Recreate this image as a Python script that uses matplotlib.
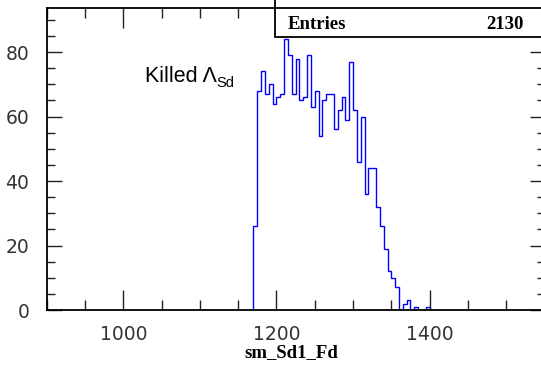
import numpy as np
import matplotlib
matplotlib.use("Agg")
import matplotlib.pyplot as plt
from matplotlib.patches import Rectangle
from matplotlib.ticker import MultipleLocator

# histogram contents, 5-unit bins starting at 1170
bin_start = 1170
bin_width = 5
counts = [26, 68, 74, 67, 70, 64, 66, 67, 84, 79,
          67, 78, 65, 66, 79, 63, 68, 54, 65, 67,
          67, 56, 62, 66, 59, 77, 62, 46, 60, 36,
          44, 44, 32, 26, 19, 12, 10, 7, 0, 2,
          3, 0, 1, 0, 0, 1]
entries = 2130
x_title = "sm_Sd1_Fd"

W, H = 541, 365
fig = plt.figure(figsize=(W / 100, H / 100), dpi=100)

# axes in pixel units: left 46.7, bottom 55, 497.8 wide, 301.7 tall
ax = fig.add_axes([46.7 / W, 55 / H, 497.8 / W, 301.7 / H])

edges = bin_start + bin_width * np.arange(len(counts) + 1)
ax.stairs(counts, edges, color="#0000ff", lw=1.0)

ax.set_xlim(900, 1550)
ax.set_ylim(0, 93.6)

ax.xaxis.set_major_locator(MultipleLocator(200))
ax.xaxis.set_minor_locator(MultipleLocator(50))
ax.yaxis.set_major_locator(MultipleLocator(20))
ax.yaxis.set_minor_locator(MultipleLocator(5))

ax.tick_params(which="both", direction="in", top=True, right=True, colors="#222222")
ax.tick_params(axis="x", which="major", length=14.4, width=1.0, pad=10.5)
ax.tick_params(axis="x", which="minor", length=7.2, width=1.0)
ax.tick_params(axis="y", which="major", length=10.8, width=1.0, pad=12.5)
ax.tick_params(axis="y", which="minor", length=5.8, width=1.0)
for lab in ax.get_xticklabels() + ax.get_yticklabels():
    lab.set_fontsize(13.5)
    lab.set_fontfamily("DejaVu Sans")
    lab.set_color("#333333")

for s in ax.spines.values():
    s.set_linewidth(1.3)
    s.set_color("black")

# stats box in the top right corner
box = Rectangle((0.4586, 0.9065), 0.6, 0.2, transform=ax.transAxes,
                facecolor="white", edgecolor="black", lw=1.3,
                clip_on=False, zorder=2)
ax.add_patch(box)
fig.text(288 / W, (H - 29) / H, "Entries", family="Liberation Serif",
         weight="bold", fontsize=13.5, ha="left", va="baseline")
fig.text(524 / W, (H - 29) / H, str(entries), family="Liberation Serif",
         weight="bold", fontsize=13.5, ha="right", va="baseline")

# label
fig.text(145 / W, (H - 82) / H, "Killed \u039b", family="Liberation Sans",
         fontsize=15.5, ha="left", va="baseline")
fig.text(216.5 / W, (H - 87) / H, "Sd", family="Liberation Sans",
         fontsize=10.5, ha="left", va="baseline")

fig.text(291 / W, (H - 357.5) / H, x_title, family="Liberation Serif",
         weight="bold", fontsize=13.5, ha="center", va="baseline")

fig.savefig("out.png", dpi=100)
